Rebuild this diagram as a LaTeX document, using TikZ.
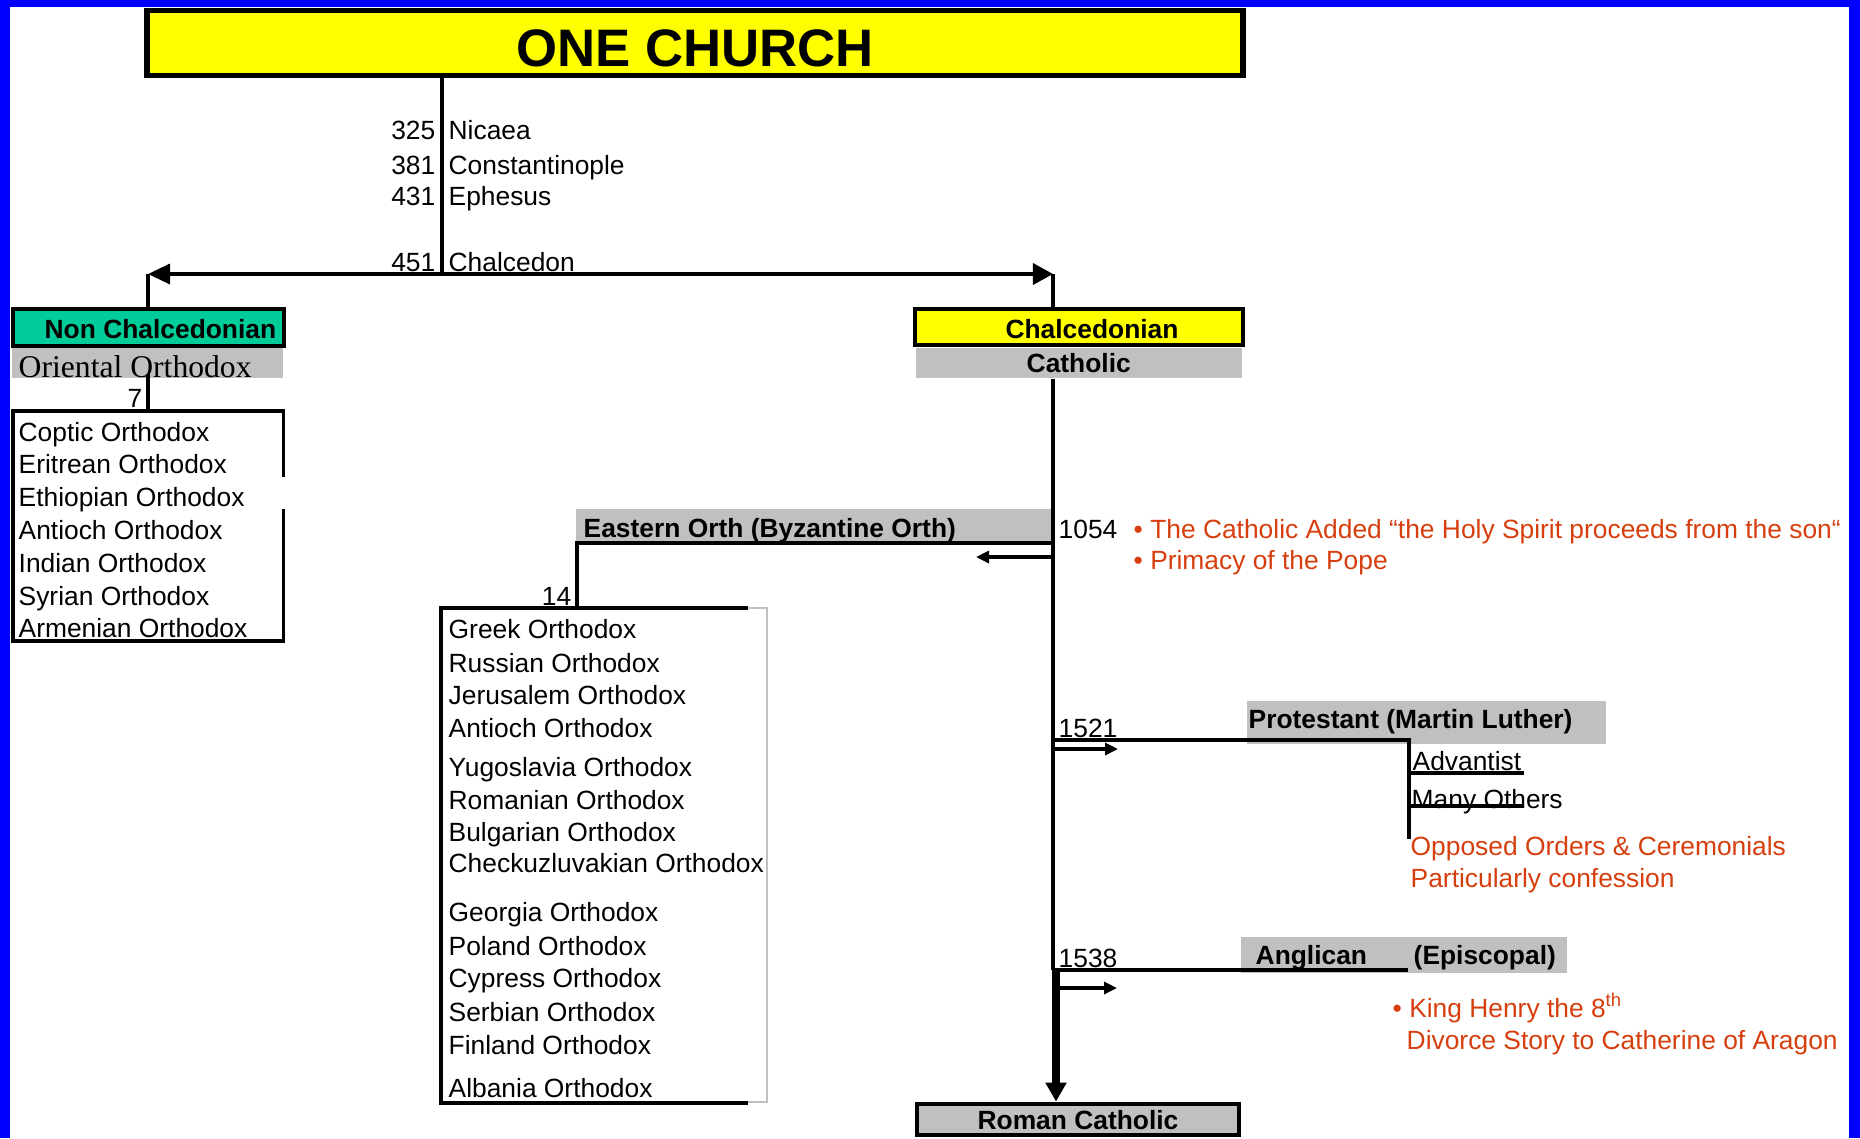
\documentclass[tikz,border=0pt]{standalone}
\usepackage{fontspec}
\setmainfont{Liberation Sans}
\newfontfamily\oriserif{Liberation Serif}
\usepackage{tikz}
\usetikzlibrary{calc,arrows.meta}
\definecolor{chyellow}{RGB}{255,255,0}
\definecolor{chteal}{RGB}{0,204,153}
\definecolor{chgray}{RGB}{192,192,192}
\definecolor{chblue}{RGB}{0,0,255}
\definecolor{notered}{RGB}{214,62,14}

\begin{document}
\begin{tikzpicture}[x=0.01cm,y=-0.01cm,
	conn/.style={line width=1pt},
	txt/.style={inner sep=0pt,anchor=west,font=\fontsize{7.5}{9}\selectfont,text height=5.4pt,text depth=0pt},
	yearlbl/.style={txt,anchor=east},
	boldlbl/.style={txt,font=\fontsize{7.5}{9}\selectfont\bfseries},
	redlbl/.style={txt,text=notered},
	framebox/.style={draw,line width=1.35pt,inner sep=0pt},
	band/.style={fill=chgray,inner sep=0pt,font=\fontsize{7.5}{9}\selectfont\bfseries,text height=5.4pt,text depth=0pt},
	bigtip/.style={{Triangle[length=0.22cm,width=0.2cm]}-{Triangle[length=0.2cm,width=0.21cm]}},
	smalltip/.style={-{Triangle[length=0.13cm,width=0.12cm]}}]
	\useasboundingbox (0,0) rectangle (1860,1138);

	%blue frame
	\fill[chblue] (0,0) rectangle (10,1138);		%left
	\fill[chblue] (0,0) rectangle (1860,7);			%top
	\fill[chblue] (1849,0) rectangle (1860,1138);	%right

	%title
	\node[framebox,line width=1.6pt,fill=chyellow,minimum width=10.95cm,minimum height=0.65cm] (church) at (695,43) {};
		\node[inner sep=0pt,font=\fontsize{15}{18}\selectfont\bfseries,text height=10.7pt,text depth=0pt] (churchlbl) at (695,47.5) {ONE CHURCH};

	%councils
	\coordinate (j451) at (442,274);
	\node[yearlbl] (y325) at (436,130) {325};		\node[txt] (nicaea) at (448,130) {Nicaea};
	\node[yearlbl] (y381) at (436,164.5) {381};		\node[txt] (constant) at (448,164.5) {Constantinople};
	\node[yearlbl] (y431) at (436,196) {431};		\node[txt] (ephesus) at (448,196) {Ephesus};
	\node[yearlbl] (y451) at (436,262) {451};		\node[txt] (chalcedon) at (448,262) {Chalcedon};
	\draw[conn] (j451 |- church.south) -- (j451);

	%split at Chalcedon
	\coordinate (jleft) at (148,274);
	\coordinate (jright) at (1053,274);
	\draw[conn,bigtip] (jleft) -- (jright);

	%non chalcedonian side
	\node[framebox,fill=chteal,minimum width=2.71cm,minimum height=0.37cm] (ncbox) at (148.5,327.5) {};
		\node[boldlbl] (nclbl) at (44,328.5) {Non Chalcedonian};
	\node[fill=chgray,inner sep=0pt,minimum width=2.705cm,minimum height=0.30cm] (orband) at (147.75,363) {};
		\node[txt,font=\fontsize{9}{11}\oriserif,text height=6pt] (orlbl) at (18,367) {Oriental Orthodox};
	\draw[conn] (jleft) -- (jleft |- ncbox.north);
	\coordinate (orlisttop) at (148,411);
	\draw[conn] ([yshift=0.05cm]orlisttop |- orband.south) -- (orlisttop);
	\node[yearlbl] (n7) at (143,397.5) {7};

	%oriental list
	\draw[conn] (283.5,477) |- (13,411) |- (283.5,641) -- (283.5,509);
	\node[txt] (coptic) at (18,431.5) {Coptic Orthodox};
	\node[txt] (eritrean) at (18,463.5) {Eritrean Orthodox};
	\node[txt] (ethiopian) at (18,497) {Ethiopian Orthodox};
	\node[txt] (antiochor) at (18,530) {Antioch Orthodox};
	\node[txt] (indian) at (18,563) {Indian Orthodox};
	\node[txt] (syrian) at (18,596) {Syrian Orthodox};
	\node[txt] (armenian) at (18,628) {Armenian Orthodox};

	%chalcedonian side
	\node[framebox,fill=chyellow,minimum width=3.28cm,minimum height=0.36cm] (chbox) at (1079,327) {};
		\node[boldlbl,anchor=center] (chlbl) at (1092,328.5) {Chalcedonian};
	\node[band,minimum width=3.255cm,minimum height=0.30cm] (catband) at (1078.75,363) {Catholic};
	\draw[conn] (jright) -- (jright |- chbox.north);

	%main line
	\coordinate (j1054) at (1053,543);
	\coordinate (j1521) at (1053,740);
	\coordinate (j1538) at (1053,970);
	\node[framebox,fill=chgray,minimum width=3.22cm,minimum height=0.31cm,font=\fontsize{7.5}{9}\selectfont\bfseries,text height=5.4pt,text depth=0pt] (roman) at (1078,1119.5) {Roman Catholic};
	\draw[conn] (jright |- catband.south) -- (j1538);
	\draw[line width=2.1pt,-{Triangle[length=0.19cm,width=0.2cm]}] ([xshift=0.03cm]j1538) -- ([xshift=0.03cm]j1538 |- roman.north);

	%1054: eastern orthodox
	\node[txt] (y1054) at (1058,529) {1054};
	\node[band,minimum width=4.75cm,minimum height=0.34cm] (eoband) at (813.5,526) {};
		\node[boldlbl] (eolbl) at (583,528) {Eastern Orth (Byzantine Orth)};
	\coordinate (eolisttop) at (577,608);
	\draw[conn] (j1054) -| (eolisttop);
	\coordinate (a1054s) at (1055,557);
	\coordinate (a1054e) at (976,557);
	\draw[conn,smalltip] (a1054s) -- (a1054e);
	\node[yearlbl] (n14) at (572,596) {14};
	\node[redlbl] (filioque) at (1133,529) {• The Catholic Added “the Holy Spirit proceeds from the son“};
	\node[redlbl] (primacy) at (1133,560) {• Primacy of the Pope};

	%eastern list
	\draw[chgray,line width=0.4pt] (441,608) rectangle (767,1102);
	\draw[conn] (748,608) -| (441,1103) -- (748,1103);
	\node[txt] (greek) at (448,629) {Greek Orthodox};
	\node[txt] (russian) at (448,662.5) {Russian Orthodox};
	\node[txt] (jerusalem) at (448,695) {Jerusalem Orthodox};
	\node[txt] (antioch) at (448,728) {Antioch Orthodox};
	\node[txt] (yugoslavia) at (448,767) {Yugoslavia Orthodox};
	\node[txt] (romanian) at (448,800) {Romanian Orthodox};
	\node[txt] (bulgarian) at (448,832) {Bulgarian Orthodox};
	\node[txt] (checkuz) at (448,863) {Checkuzluvakian Orthodox};
	\node[txt] (georgia) at (448,911.5) {Georgia Orthodox};
	\node[txt] (poland) at (448,946) {Poland Orthodox};
	\node[txt] (cypress) at (448,978) {Cypress Orthodox};
	\node[txt] (serbian) at (448,1012) {Serbian Orthodox};
	\node[txt] (finland) at (448,1044.5) {Finland Orthodox};
	\node[txt] (albania) at (448,1088) {Albania Orthodox};

	%1521: protestant
	\node[txt] (y1521) at (1058,728) {1521};
	\node[band,minimum width=3.59cm,minimum height=0.43cm] (prband) at (1426.5,722.5) {};
		\node[boldlbl] (prlbl) at (1248,719) {Protestant (Martin Luther)};
	\coordinate (prend) at (1409,839);
	\draw[conn] (j1521) -| (prend);
	\coordinate (a1521s) at (1055,749);
	\coordinate (a1521e) at (1118,749);
	\draw[conn,smalltip] (a1521s) -- (a1521e);
	\node[txt] (advantist) at (1412,761) {Advantist};
	\node[txt] (others) at (1411,798.5) {Many Others};
		\draw[conn] (1409,773) -- (1524,773);		%under Advantist
		\draw[conn] (1409,806) -- (1524,806);		%under Many Others
	\node[redlbl] (opposed) at (1410,846) {Opposed Orders \& Ceremonials};
	\node[redlbl] (confession) at (1410,878) {Particularly confession};

	%1538: anglican
	\node[txt] (y1538) at (1058,957.5) {1538};
	\node[band,minimum width=3.26cm,minimum height=0.36cm] (anband) at (1404,955) {};
		\node[boldlbl] (anlbl) at (1255,955) {Anglican};
		\node[boldlbl] (eplbl) at (1413,955) {(Episcopal)};
	\coordinate (anend) at (1408,970);
	\draw[conn] (j1538) -- (anend);
	\coordinate (a1538s) at (1055,988);
	\coordinate (a1538e) at (1117,988);
	\draw[conn,smalltip] (a1538s) -- (a1538e);
	\node[redlbl] (henry) at (1392,1007.5) {• King Henry the 8\textsuperscript{th}};
	\node[redlbl] (divorce) at (1406,1040) {Divorce Story to Catherine of Aragon};
\end{tikzpicture}
\end{document}
